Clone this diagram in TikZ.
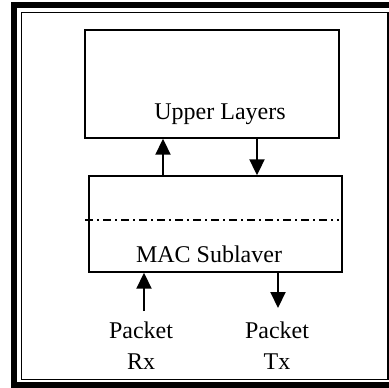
\documentclass[tikz,border=0pt]{standalone}
\usepackage{fontspec}
\setmainfont{Liberation Serif}
\usetikzlibrary{arrows.meta}

\tikzset{
    layerbox/.style={draw, line width=0.7pt, minimum width=127pt, minimum height=54pt, inner sep=0pt},
    flow/.style={line width=1pt, -{Triangle[width=7.5pt, length=8pt]}},
    txt/.style={font=\fontsize{12}{14}\selectfont, inner sep=0pt}
}

\begin{document}
\begin{tikzpicture}[x=0.5pt, y=-0.5pt]
            \useasboundingbox (0,0) rectangle (389,387);
            % frame
            \draw[line width=3pt] (14,5) rectangle (400,384.5);
            \draw[line width=0.6pt] (21.5,12.5) rectangle (388,379.5);
            % boxes
            \node[layerbox, minimum width=127pt, minimum height=54pt] (upper) at (212,84) {};
            \node[layerbox, minimum width=126.5pt, minimum height=48pt] (mac) at (215.5,224) {};
            \node[txt] (upperlbl) at (220,114) {Upper Layers};
            \node[txt] (maclbl) at (209,254) {MAC Sublaver};
            \draw[line width=0.6pt, dash pattern=on 4pt off 2pt on 1pt off 2pt] (85,220) -- (339,220);
            % packet labels
            \node[txt] (rx1) at (141,330) {Packet};
            \node[txt] (rx2) at (141,362) {Rx};
            \node[txt] (tx1) at (277,330) {Packet};
            \node[txt] (tx2) at (277,362) {Tx};
            \coordinate (rxend) at (144,311);
            \coordinate (txend) at (278,308);
            % arrows
            \draw[flow] (mac.north -| 163,0) -- (upper.south -| 163,0);
            \draw[flow] (upper.south -| 257,0) -- (mac.north -| 257,0);
            \draw[flow] (rxend) -- (mac.south -| rxend);
            \draw[flow] (mac.south -| txend) -- (txend);
        \end{tikzpicture}
\end{document}
